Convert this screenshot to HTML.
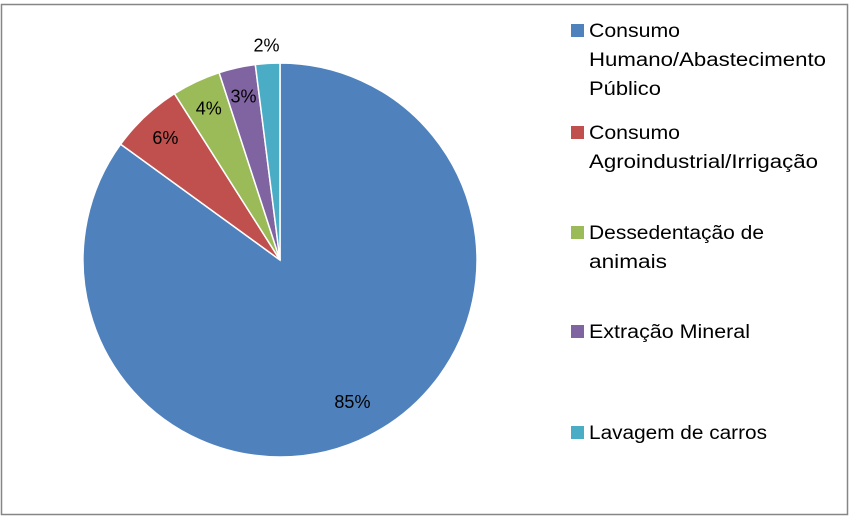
<!DOCTYPE html>
<html><head><meta charset="utf-8"><style>
html,body{margin:0;padding:0;background:#fff;}
svg{display:block;font-family:"Liberation Sans",sans-serif;}
</style></head><body>
<svg id="chart" width="850" height="516" viewBox="0 0 850 516">
<rect x="1.5" y="4.5" width="846" height="510" fill="#fff" stroke="#868686" stroke-width="1.5"/>
<g id="slices"></g>
<g id="labels"></g>
<g id="legend"></g>
</svg>
<script>
const categories = ["Consumo Humano/Abastecimento Público","Consumo Agroindustrial/Irrigação","Dessedentação de animais","Extração Mineral","Lavagem de carros"];
const values = [85, 6, 4, 3, 2];
const valueLabels = ["85%","6%","4%","3%","2%"];
const legendLines = [["Consumo","Humano/Abastecimento","Público"],["Consumo","Agroindustrial/Irrigação"],["Dessedentação de","animais"],["Extração Mineral"],["Lavagem de carros"]];
const colors = ["#4f81bd","#c0504d","#9bbb59","#8064a2","#4bacc6"];
const NS="http://www.w3.org/2000/svg";
const cx=280, cy=260, R=197;
const total=values.reduce((a,b)=>a+b,0);
function pt(frac,r){const a=frac*2*Math.PI;return [cx+r*Math.sin(a), cy-r*Math.cos(a)];}
const sg=document.getElementById('slices'), lg=document.getElementById('labels'), leg=document.getElementById('legend');
let acc=0;
values.forEach((v,i)=>{
  const f0=acc/total, f1=(acc+v)/total; acc+=v;
  const [x0,y0]=pt(f0,R),[x1,y1]=pt(f1,R);
  const p=document.createElementNS(NS,'path');
  p.setAttribute('d',`M${cx},${cy}L${x0},${y0}A${R},${R} 0 ${(f1-f0)>0.5?1:0} 1 ${x1},${y1}Z`);
  p.setAttribute('fill',colors[i]);p.setAttribute('stroke','#fff');p.setAttribute('stroke-width','1.5');
  
  
  sg.appendChild(p);
  const fm=(f0+f1)/2;
  const rr = v/total<0.025 ? R*1.09 : (v/total>0.5 ? R*0.81 : R*0.85);
  const [lx,ly]=pt(fm,rr);
  const t=document.createElementNS(NS,'text');
  t.setAttribute('x',lx);t.setAttribute('y',ly+6);t.setAttribute('text-anchor','middle');
  t.setAttribute('font-size','18');t.setAttribute('fill','#000');
  t.textContent=valueLabels[i];
  
  
  lg.appendChild(t);
});
const legTops=[37,139,239,338,439];
const widths={"Consumo":91,"Humano/Abastecimento":237,"Público":72,"Agroindustrial/Irrigação":229,"Dessedentação de":175,"animais":78,"Extração Mineral":161,"Lavagem de carros":178};
legendLines.forEach((lines,i)=>{
  const g=document.createElementNS(NS,'g');
  
  
  const r=document.createElementNS(NS,'rect');
  r.setAttribute('x',571);r.setAttribute('y',legTops[i]-13);r.setAttribute('width',13);r.setAttribute('height',13);r.setAttribute('fill',colors[i]);
  g.appendChild(r);
  lines.forEach((s,j)=>{
    const t=document.createElementNS(NS,'text');
    t.setAttribute('x',589);t.setAttribute('y',legTops[i]+j*29);
    t.setAttribute('font-size','19');t.setAttribute('fill','#000');
    if(widths[s]){t.setAttribute('textLength',widths[s]);t.setAttribute('lengthAdjust','spacingAndGlyphs');}
    t.textContent=s;g.appendChild(t);
  });
  leg.appendChild(g);
});
</script>
</body></html>
